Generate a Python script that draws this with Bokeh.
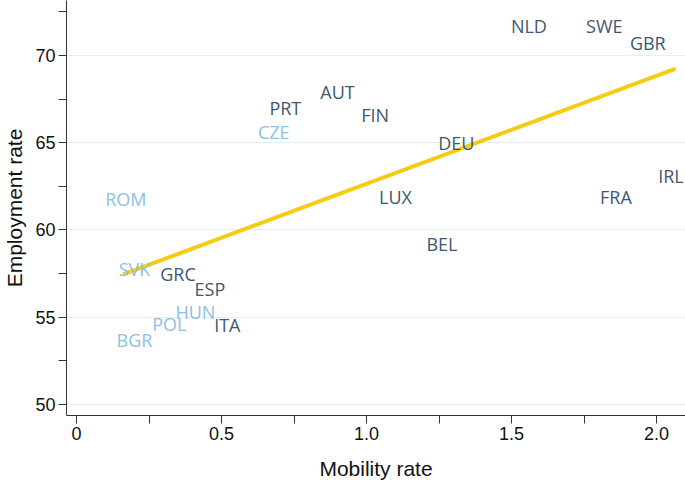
from bokeh.plotting import figure
from bokeh.models import ColumnDataSource, Range1d, FixedTicker
from bokeh.core.properties import value
from bokeh.embed import file_html
from bokeh.resources import INLINE

countries = ["NLD", "SWE", "GBR", "PRT", "AUT", "FIN", "CZE", "DEU", "ROM", "LUX",
             "FRA", "IRL", "BEL", "SVK", "GRC", "ESP", "HUN", "POL", "ITA", "BGR"]
mobility = [1.56, 1.82, 1.97, 0.72, 0.90, 1.03, 0.68, 1.31, 0.17, 1.10,
            1.86, 2.05, 1.26, 0.20, 0.35, 0.46, 0.41, 0.32, 0.52, 0.20]
employment = [71.7, 71.7, 70.7, 67.0, 67.9, 66.6, 65.6, 65.0, 61.75, 61.9,
              61.9, 63.1, 59.2, 57.75, 57.45, 56.6, 55.3, 54.6, 54.55, 53.7]
group = ["old", "old", "old", "old", "old", "old", "new", "old", "new", "old",
         "old", "old", "old", "new", "old", "old", "new", "new", "old", "new"]

fit_x = [0.16, 2.066]
fit_y = [57.45, 69.25]

x_ticks = [0, 0.5, 1.0, 1.5, 2.0]
y_ticks = [50, 55, 60, 65, 70]

DARK = "#3d5872"
LIGHT = "#8dc0e4"
colors = [LIGHT if g == "new" else DARK for g in group]

src = ColumnDataSource(dict(x=mobility, y=employment, t=countries, c=colors))

p = figure(width=685, height=483, output_backend="svg", toolbar_location=None,
           x_range=Range1d(-0.0345, 2.1), y_range=Range1d(49.37, 73.15),
           min_border_left=66, min_border_bottom=68, min_border_top=0, min_border_right=0)
p.outline_line_color = None
p.background_fill_color = "white"
p.border_fill_color = "white"

p.xgrid.grid_line_color = None
p.ygrid.grid_line_color = "#e4eef5"
p.ygrid.grid_line_width = 1

p.xaxis.ticker = FixedTicker(ticks=x_ticks, minor_ticks=[0.25, 0.75, 1.25, 1.75])
p.yaxis.ticker = FixedTicker(ticks=y_ticks, minor_ticks=[52.5, 57.5, 62.5, 67.5, 72.5])
p.xaxis.major_label_overrides = {0: "0", 0.5: "0.5", 1.0: "1.0", 1.5: "1.5", 2.0: "2.0"}

for ax in (p.xaxis[0], p.yaxis[0]):
    ax.axis_line_color = "#333333"
    ax.axis_line_width = 1
    ax.major_tick_line_color = "#333333"
    ax.minor_tick_line_color = "#333333"
    ax.major_tick_in = 0
    ax.major_tick_out = 8
    ax.minor_tick_in = 0
    ax.minor_tick_out = 8
    ax.major_label_text_font = "Liberation Sans"
    ax.major_label_text_font_size = "18px"
    ax.major_label_text_color = "#111111"
    ax.axis_label_text_font = "Liberation Sans"
    ax.axis_label_text_font_size = "21px"
    ax.axis_label_text_font_style = "normal"
    ax.axis_label_text_color = "#111111"
    ax.major_label_standoff = 3

p.xaxis.axis_label = "Mobility rate"
p.yaxis.axis_label = "Employment rate"
p.xaxis.axis_label_standoff = 14
p.yaxis.axis_label_standoff = 6

p.line(fit_x, fit_y, line_color="#f5cb14", line_width=4)

p.text(x="x", y="y", text="t", text_color="c", source=src,
       text_font=value("Open Sans"), text_font_size="18px",
       text_align="center", text_baseline="middle")

open("out.html", "w").write(file_html(p, INLINE))
